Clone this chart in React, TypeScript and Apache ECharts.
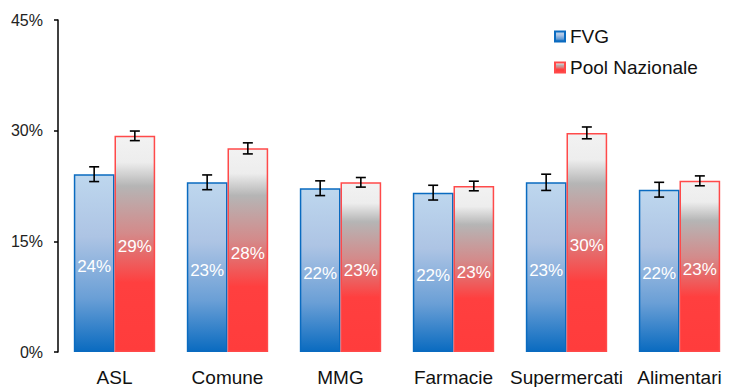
import React, { useEffect, useRef } from "react";
import * as echarts from "echarts";

const categories = ["ASL", "Comune", "MMG", "Farmacie", "Supermercati", "Alimentari"];
const fvgValues = [24.1, 23.0, 22.2, 21.6, 23.0, 22.0];
const poolValues = [29.3, 27.6, 23.0, 22.5, 29.7, 23.2];
const fvgErr = [1.0, 1.0, 1.0, 1.0, 1.1, 1.0];
const poolErr = [0.65, 0.75, 0.65, 0.65, 0.8, 0.67];
const yTicks = [0, 15, 30, 45];

const FONT = "Liberation Sans, Arial, sans-serif";

export default function App() {
  const ref = useRef<HTMLDivElement>(null);
  useEffect(() => {
    if (!ref.current) return;
    const chart = echarts.init(ref.current, null, { renderer: "svg" });
    const blue = new echarts.graphic.LinearGradient(0, 0, 0, 1, [
      { offset: 0, color: "#bed7ee" },
      { offset: 0.35, color: "#adc4e4" },
      { offset: 0.7, color: "#6a9fd6" },
      { offset: 1, color: "#0a6bc0" },
    ]);
    const red = new echarts.graphic.LinearGradient(0, 0, 0, 1, [
      { offset: 0, color: "#f2f2f2" },
      { offset: 0.12, color: "#ededed" },
      { offset: 0.23, color: "#b5b5b5" },
      { offset: 0.45, color: "#d48a8a" },
      { offset: 0.68, color: "#ff3f3f" },
      { offset: 1, color: "#ff3c3c" },
    ]);
    const errSeries = (vals: number[], errs: number[], side: number) => ({
      type: "custom",
      silent: true,
      z: 5,
      data: vals.map((v, i) => [i, v, errs[i]]),
      renderItem: (params: any, api: any) => {
        const i = api.value(0);
        const v = api.value(1);
        const e = api.value(2);
        const band = api.size([1, 0])[0];
        const hi = api.coord([i, v + e]);
        const lo = api.coord([i, v - e]);
        const x = hi[0] + side * band * 0.18;
        const cap = 5;
        const style = { stroke: "#000", lineWidth: 1.6 };
        return {
          type: "group",
          children: [
            { type: "line", shape: { x1: x, y1: hi[1], x2: x, y2: lo[1] }, style },
            { type: "line", shape: { x1: x - cap, y1: hi[1], x2: x + cap, y2: hi[1] }, style },
            { type: "line", shape: { x1: x - cap, y1: lo[1], x2: x + cap, y2: lo[1] }, style },
          ],
        };
      },
    });
    const label = {
      show: true,
      position: "inside",
      offset: [0, 3],
      color: "#ffffff",
      fontSize: 17,
      fontFamily: FONT,
      formatter: (p: any) => Math.round(p.value) + "%",
    };
    chart.setOption({
      animation: false,
      backgroundColor: "#ffffff",
      grid: { left: 58, top: 20, bottom: 27, width: 685 },
      legend: {
        orient: "vertical",
        left: 549,
        top: 22,
        itemWidth: 10,
        itemHeight: 10,
        itemGap: 12,
        icon: "rect",
        textStyle: { fontSize: 19, color: "#111", fontFamily: FONT },
        data: ["FVG", "Pool Nazionale"],
      },
      xAxis: {
        type: "category",
        data: categories,
        axisLine: { show: false },
        axisTick: { show: false },
        axisLabel: { fontSize: 19, color: "#111", fontFamily: FONT, margin: 16, interval: 0 },
      },
      yAxis: {
        type: "value",
        min: yTicks[0],
        max: yTicks[yTicks.length - 1],
        interval: 15,
        splitLine: { show: false },
        axisLine: { show: true, lineStyle: { color: "#000", width: 1.5 } },
        axisTick: { show: true, inside: false, length: 4, lineStyle: { color: "#000", width: 1.5 } },
        axisLabel: { formatter: "{value}%", fontSize: 16, color: "#222", fontFamily: FONT, margin: 15 },
      },
      series: [
        {
          name: "FVG",
          type: "bar",
          data: fvgValues,
          barWidth: "36%",
          barGap: "0%",
          itemStyle: { color: blue, borderColor: "#0a6bc0", borderWidth: 1.5 },
          label,
        },
        {
          name: "Pool Nazionale",
          type: "bar",
          data: poolValues,
          barWidth: "36%",
          barGap: "0%",
          itemStyle: { color: red, borderColor: "#ff4a4a", borderWidth: 1.5 },
          label,
        },
        errSeries(fvgValues, fvgErr, -1),
        errSeries(poolValues, poolErr, 1),
      ],
    });
    return () => chart.dispose();
  }, []);
  return (
    <div
      ref={ref}
      style={{ position: "fixed", left: 0, top: 0, width: 736, height: 387, background: "#fff" }}
    />
  );
}
